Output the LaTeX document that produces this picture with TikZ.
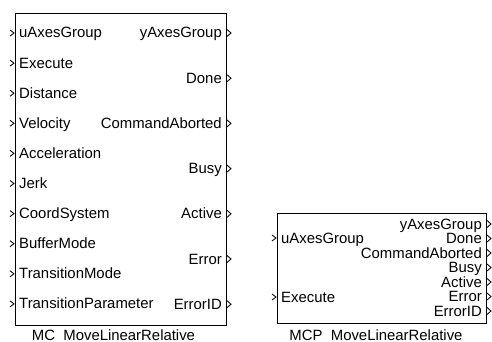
\documentclass[tikz,border=0pt]{standalone}
\usepackage{fontspec}
\setmainfont{Liberation Sans}
\usetikzlibrary{positioning,calc}
\tikzset{
  blkbox/.style={draw=black, line width=1.2pt, fill=white, inner sep=0pt, anchor=north west},
  plab/.style={font=\fontsize{14.9}{16}\selectfont, inner sep=0pt},
  blkname/.style={font=\fontsize{14.9}{16}\selectfont, inner sep=0pt, anchor=base},
  parr/.style={draw=black, line width=0.85pt},
}
% input chevron: #1 = x of box edge, #2 = y
\newcommand{\inchev}[2]{%
  \draw[parr] (#1-5,#2-3) -- (#1-1,#2) -- (#1-5,#2+3);}
\newcommand{\outchev}[2]{%
  \draw[parr] (#1+1,#2-3.5) -- (#1+5,#2) -- (#1+1,#2+3.5);}

\begin{document}
\begin{tikzpicture}[x=1pt, y=-1pt]
  \useasboundingbox (0,0) rectangle (492,342);
  % MC block
  \node[blkbox, minimum width=211pt, minimum height=312pt] (mc) at (15,13) {};
  \foreach \lab [count=\i from 0] in {uAxesGroup,Execute,Distance,Velocity,Acceleration,
      Jerk,CoordSystem,BufferMode,TransitionMode,TransitionParameter} {
    \node[plab, anchor=base west] (mcin\i) at (19,33+30.1*\i+5) {\lab};
    \inchev{15}{33+30.1*\i}
  }
  \foreach \lab [count=\i from 0] in {yAxesGroup,Done,CommandAborted,Busy,Active,Error,ErrorID} {
    \node[plab, anchor=base east] (mcout\i) at (222,33+45.2*\i+5) {\lab};
    \outchev{226}{33+45.2*\i}
  }
  \node[blkname] (mcname) at (113.5,340) {MC\ \ MoveLinearRelative};
  % MCP block
  \node[blkbox, minimum width=209pt, minimum height=110pt] (mcp) at (277,213) {};
  \node[plab, anchor=base west] (mcpin0) at (281,238+5) {uAxesGroup};
  \node[plab, anchor=base west] (mcpin1) at (281,297+5) {Execute};
  \inchev{277}{238}
  \inchev{277}{297}
  \foreach \lab [count=\i from 0] in {yAxesGroup,Done,CommandAborted,Busy,Active,Error,ErrorID} {
    \node[plab, anchor=base east] (mcpout\i) at (482,224+14.5*\i+5) {\lab};
    \outchev{486}{224+14.5*\i}
  }
  \node[blkname] (mcpname) at (376,340) {MCP\ \ MoveLinearRelative};
\end{tikzpicture}
\end{document}
